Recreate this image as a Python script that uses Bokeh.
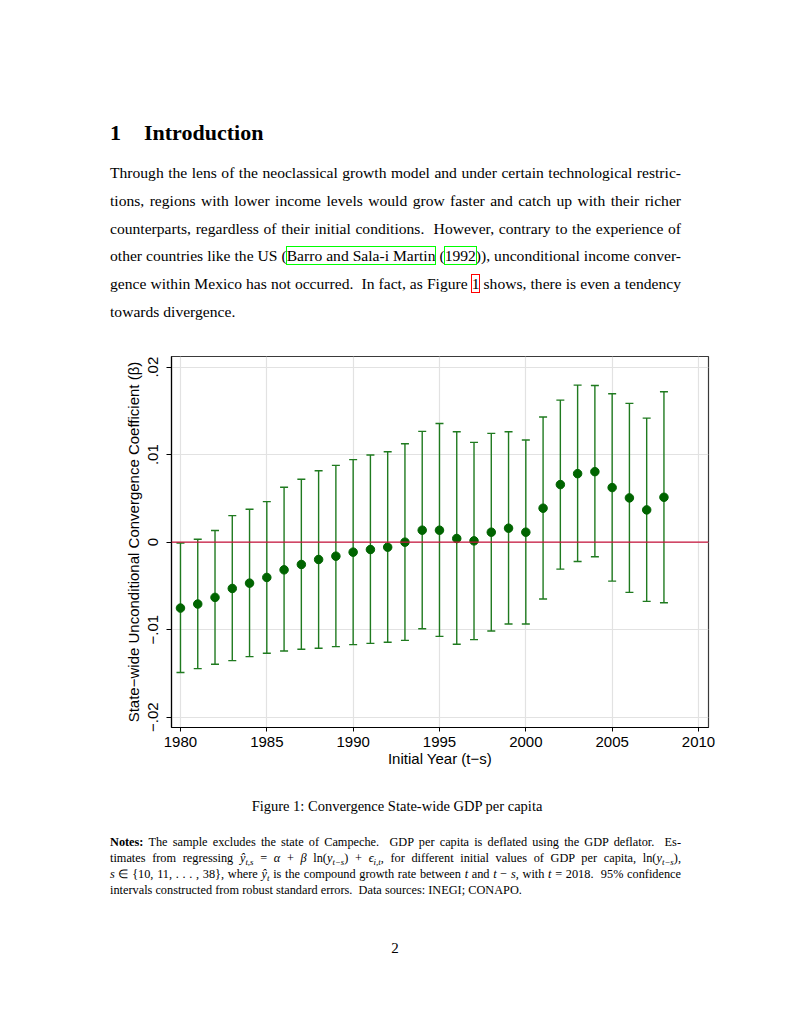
from bokeh.plotting import figure
from bokeh.models import (ColumnDataSource, Range1d, Whisker, TeeHead, Span,
                          FixedTicker, Div)
from bokeh.layouts import column
from bokeh.embed import file_html
from bokeh.resources import INLINE

# ---------------- data ----------------
years = [1980, 1981, 1982, 1983, 1984, 1985, 1986, 1987, 1988, 1989,
         1990, 1991, 1992, 1993, 1994, 1995, 1996, 1997, 1998, 1999,
         2000, 2001, 2002, 2003, 2004, 2005, 2006, 2007, 2008]
beta = [-0.00753, -0.00707, -0.00631, -0.00529, -0.00468, -0.00403, -0.00316,
        -0.00255, -0.00198, -0.00160, -0.00114, -0.00084, -0.00057, 0.00000,
        0.00137, 0.00137, 0.00042, 0.00015, 0.00114, 0.00160, 0.00114,
        0.00388, 0.00658, 0.00783, 0.00806, 0.00624, 0.00506, 0.00369, 0.00513]
ci_upper = [-0.00010, 0.00034, 0.00133, 0.00304, 0.00376, 0.00464, 0.00627,
            0.00719, 0.00817, 0.00878, 0.00943, 0.00996, 0.01034, 0.01125,
            0.01266, 0.01357, 0.01262, 0.01141, 0.01243, 0.01262, 0.01167,
            0.01430, 0.01624, 0.01795, 0.01791, 0.01696, 0.01586, 0.01418, 0.01719]
ci_lower = [-0.01490, -0.01445, -0.01395, -0.01354, -0.01308, -0.01270, -0.01243,
            -0.01224, -0.01213, -0.01194, -0.01171, -0.01156, -0.01144, -0.01122,
            -0.00989, -0.01076, -0.01167, -0.01114, -0.01015, -0.00935, -0.00935,
            -0.00650, -0.00308, -0.00221, -0.00167, -0.00445, -0.00574, -0.00677, -0.00692]

x_ticks = [1980, 1985, 1990, 1995, 2000, 2005, 2010]
y_ticks = [-0.02, -0.01, 0.0, 0.01, 0.02]
y_tick_labels = ["\u2212.02", "\u2212.01", "0", ".01", ".02"]

x_title = "Initial Year (t\u2212s)"
y_title = "State\u2212wide Unconditional Convergence Coefficient (\u03b2)"

SERIF = "'Liberation Serif', 'Times New Roman', serif"
SANS = "Liberation Sans"

# ---------------- top text ----------------
green_box = "outline:1px solid #00ff00; outline-offset:0px;"
red_box = "outline:1px solid #ff0000; outline-offset:0px;"
para_lines = [
    "Through the lens of the neoclassical growth model and under certain technological restric-",
    "tions, regions with lower income levels would grow faster and catch up with their richer",
    "counterparts, regardless of their initial conditions. &nbsp;However, contrary to the experience of",
    "other countries like the US (<span style='%s'>Barro and Sala-i Martin</span> (<span style='%s'>1992</span>)), unconditional income conver-" % (green_box, green_box),
    "gence within Mexico has not occurred. &nbsp;In fact, as Figure <span style='%s'>1</span> shows, there is even a tendency" % red_box,
]
last_line = "towards divergence."

line_style = ("text-align:justify; text-align-last:justify; white-space:nowrap; "
              "height:27.8px; line-height:27.8px; overflow:visible;")
para_html = "".join("<div style=\"%s\">%s</div>" % (line_style, l) for l in para_lines)
para_html += "<div style=\"height:27.8px; line-height:27.8px; white-space:nowrap;\">%s</div>" % last_line

top_html = (
    "<div style=\"font-family:%s; color:#000; margin:0 0 0 110px; padding:0; width:571px; box-sizing:content-box;\">"
    "<div style=\"font-weight:bold; font-size:22px; line-height:24px; height:24px; margin-top:121px; white-space:nowrap;\">"
    "1<span style='display:inline-block; width:23px;'></span>Introduction</div>"
    "<div style=\"font-size:15.6px; margin-top:14px;\">%s</div>"
    "</div>" % (SERIF, para_html)
)
top_div = Div(text=top_html, width=775, height=340, margin=0)

# ---------------- chart ----------------
src = ColumnDataSource(data=dict(year=years, beta=beta, hi=ci_upper, lo=ci_lower))

p = figure(width=775, height=440,
           x_range=Range1d(1979.48, 2010.58), y_range=Range1d(-0.02118, 0.02122),
           output_backend="svg", toolbar_location=None,
           min_border_left=171, min_border_right=67,
           min_border_top=16, min_border_bottom=53)
p.background_fill_color = "white"
p.border_fill_color = "white"
p.outline_line_color = "#3a3a3a"
p.outline_line_width = 1.2

grid_color = "#e2e2e2"
p.xgrid.ticker = FixedTicker(ticks=x_ticks)
p.ygrid.ticker = FixedTicker(ticks=y_ticks)
p.xgrid.grid_line_color = grid_color
p.ygrid.grid_line_color = grid_color
p.xgrid.grid_line_width = 1.2
p.ygrid.grid_line_width = 1.2

p.xaxis.ticker = FixedTicker(ticks=x_ticks)
p.yaxis.ticker = FixedTicker(ticks=y_ticks)
p.yaxis.major_label_overrides = {t: l for t, l in zip(y_ticks, y_tick_labels)}
p.yaxis.major_label_orientation = "vertical"

for ax in (p.xaxis[0], p.yaxis[0]):
    ax.axis_line_color = "black"
    ax.axis_line_width = 1.2
    ax.major_tick_line_color = "black"
    ax.major_tick_in = 0
    ax.minor_tick_line_color = None
    ax.major_label_text_font = SANS
    ax.major_label_text_font_size = "15px"
    ax.major_label_text_color = "black"
    ax.axis_label_text_font = SANS
    ax.axis_label_text_font_size = "15px"
    ax.axis_label_text_font_style = "normal"
    ax.axis_label_text_color = "black"

p.xaxis.major_tick_out = 4
p.yaxis.major_tick_out = 5
p.xaxis.major_label_standoff = 5
p.yaxis.major_label_standoff = 8
p.xaxis.axis_label = x_title
p.yaxis.axis_label = y_title
p.xaxis.axis_label_standoff = 0
p.yaxis.axis_label_standoff = 4

zero = Span(location=0, dimension="width", line_color="#c8143c", line_width=1.3)
p.add_layout(zero)

ci_color = "#1f7a1f"
wh = Whisker(base="year", upper="hi", lower="lo", source=src,
             line_color=ci_color, line_width=1.4,
             upper_head=TeeHead(size=8, line_color=ci_color, line_width=1.4),
             lower_head=TeeHead(size=8, line_color=ci_color, line_width=1.4))
p.add_layout(wh)

p.scatter(x="year", y="beta", source=src, size=8.5, marker="circle",
          fill_color="#006400", line_color="#006400")

# ---------------- bottom text ----------------
sub = "<sub style='font-size:0.72em; line-height:0; vertical-align:-0.3em;'>%s</sub>"
note_line_style = ("text-align:justify; text-align-last:justify; white-space:nowrap; "
                   "height:16px; line-height:16px;")
notes_lines = [
    "<b>Notes:</b> The sample excludes the state of Campeche. &nbsp;GDP per capita is deflated using the GDP deflator. &nbsp;Es-",
    "timates from regressing <i>\u0177</i>" + (sub % "<i>t,s</i>") + " = <i>\u03b1</i> + <i>\u03b2</i> ln(<i>y</i>" + (sub % "<i>t\u2212s</i>") +
    ") + <i>\u03f5</i>" + (sub % "<i>i,t</i>") + ", for different initial values of GDP per capita, ln(<i>y</i>" + (sub % "<i>t\u2212s</i>") + "),",
    "<i>s</i> \u2208 {10, 11, . . . , 38}, where <i>\u0177</i>" + (sub % "<i>t</i>") +
    " is the compound growth rate between <i>t</i> and <i>t</i> \u2212 <i>s</i>, with <i>t</i> = 2018. &nbsp;95% confidence",
]
notes_last = "intervals constructed from robust standard errors. &nbsp;Data sources: INEGI; CONAPO."
notes_html = "".join("<div style=\"%s\">%s</div>" % (note_line_style, l) for l in notes_lines)
notes_html += "<div style=\"height:16px; line-height:16px; white-space:nowrap;\">%s</div>" % notes_last

bottom_html = (
    "<div style=\"font-family:%s; color:#000; margin:0; padding:0;\">"
    "<div style=\"width:775px; text-align:center; font-size:14.5px; line-height:18px; height:18px; margin-top:17px; padding-left:19px; box-sizing:border-box;\">"
    "Figure 1: Convergence State-wide GDP per capita</div>"
    "<div style=\"margin-left:110px; width:571px; font-size:12.3px; margin-top:19px; box-sizing:content-box;\">%s</div>"
    "<div style=\"width:775px; text-align:center; font-size:15px; line-height:18px; height:18px; margin-top:41px; padding-left:15px; box-sizing:border-box;\">2</div>"
    "</div>" % (SERIF, notes_html)
)
bottom_div = Div(text=bottom_html, width=775, height=236, margin=0)

layout = column(top_div, p, bottom_div, spacing=0)

open("out.html", "w").write(file_html(layout, INLINE))
